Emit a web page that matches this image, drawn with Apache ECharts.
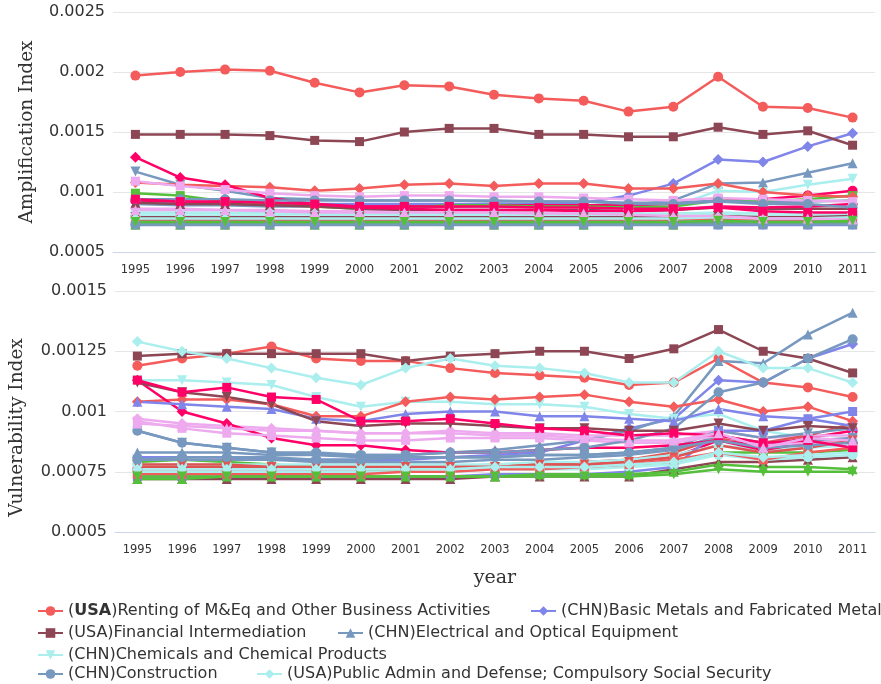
<!DOCTYPE html>
<html lang="en">
  <head>
    <meta charset="UTF-8" />
    <title>Amplification and Vulnerability Index</title>
    <script src="https://cdn.jsdelivr.net/npm/echarts@6/dist/echarts.min.js"></script>
    <style>
      body {
        margin: 0;
        background: #fff;
      }
      main {
        width: 881px;
        height: 684px;
      }
    </style>
  </head>
  <body>
    <main></main>
    <script>
      const years = ["1995", "1996", "1997", "1998", "1999", "2000", "2001", "2002", "2003", "2004", "2005", "2006", "2007", "2008", "2009", "2010", "2011"];

      // series names (only the first few + 20/21 appear in the legend)
      const seriesNames = [
        "(USA)Renting of M&Eq and Other Business Activities",
        "(CHN)Basic Metals and Fabricated Metal",
        "(USA)Financial Intermediation",
        "(CHN)Electrical and Optical Equipment",
        "(CHN)Chemicals and Chemical Products",
        "Sector 6", "Sector 7", "Sector 8", "Sector 9", "Sector 10",
        "Sector 11", "Sector 12", "Sector 13", "Sector 14", "Sector 15",
        "Sector 16", "Sector 17", "Sector 18", "Sector 19", "Sector 20",
        "(CHN)Construction",
        "(USA)Public Admin and Defense; Compulsory Social Security",
        "Sector 23", "Sector 24", "Sector 25", "Sector 26", "Sector 27",
        "Sector 28", "Sector 29", "Sector 30"
      ];

      // Amplification index (top) / Vulnerability index (bottom)
      const s00Amp = [0.00197, 0.002, 0.00202, 0.00201, 0.00191, 0.00183, 0.00189, 0.00188, 0.00181, 0.00178, 0.00176, 0.00167, 0.00171, 0.00196, 0.00171, 0.0017, 0.00162];
      const s00Vul = [0.00119, 0.00122, 0.00124, 0.00127, 0.00122, 0.00121, 0.00121, 0.00118, 0.00116, 0.00115, 0.00114, 0.00111, 0.00112, 0.00122, 0.00112, 0.0011, 0.00106];
      const s01Amp = [0.00092, 0.00092, 0.00091, 0.00091, 0.0009, 0.0009, 0.0009, 0.0009, 0.0009, 0.0009, 0.00091, 0.00097, 0.00107, 0.00127, 0.00125, 0.00138, 0.00149];
      const s01Vul = [0.00081, 0.00081, 0.00081, 0.0008, 0.0008, 0.0008, 0.0008, 0.00081, 0.00082, 0.00083, 0.00088, 0.00093, 0.00097, 0.00113, 0.00112, 0.00122, 0.00128];
      const s02Amp = [0.00148, 0.00148, 0.00148, 0.00147, 0.00143, 0.00142, 0.0015, 0.00153, 0.00153, 0.00148, 0.00148, 0.00146, 0.00146, 0.00154, 0.00148, 0.00151, 0.00139];
      const s02Vul = [0.00123, 0.00124, 0.00124, 0.00124, 0.00124, 0.00124, 0.00121, 0.00123, 0.00124, 0.00125, 0.00125, 0.00122, 0.00126, 0.00134, 0.00125, 0.00122, 0.00116];
      const s03Amp = [0.0009, 0.00089, 0.00089, 0.00088, 0.00088, 0.00088, 0.00088, 0.00088, 0.00088, 0.00088, 0.00088, 0.00089, 0.00093, 0.00107, 0.00108, 0.00116, 0.00124];
      const s03Vul = [0.00083, 0.00083, 0.00083, 0.00082, 0.00082, 0.00082, 0.00082, 0.00083, 0.00084, 0.00086, 0.00088, 0.00092, 0.00098, 0.00121, 0.0012, 0.00132, 0.00141];
      const s04Amp = [0.00082, 0.00082, 0.00082, 0.00082, 0.00081, 0.00081, 0.00082, 0.00082, 0.00082, 0.00082, 0.00082, 0.00083, 0.00088, 0.00101, 0.001, 0.00106, 0.00111];
      const s04Vul = [0.00113, 0.00113, 0.00112, 0.00111, 0.00106, 0.00102, 0.00104, 0.00104, 0.00103, 0.00103, 0.00102, 0.00099, 0.00097, 0.00099, 0.00092, 0.00089, 0.00088];
      const s05Amp = [0.00093, 0.00092, 0.00091, 0.0009, 0.00089, 0.00088, 0.00088, 0.00088, 0.00089, 0.00089, 0.00089, 0.00089, 0.0009, 0.00093, 0.00094, 0.00097, 0.00101];
      const s05Vul = [0.00076, 0.00076, 0.00076, 0.00076, 0.00076, 0.00076, 0.00076, 0.00077, 0.00077, 0.00077, 0.00078, 0.00079, 0.00081, 0.00088, 0.00086, 0.00089, 0.00092];
      const s06Amp = [0.00086, 0.00086, 0.00085, 0.00085, 0.00084, 0.00084, 0.00085, 0.00085, 0.00085, 0.00085, 0.00085, 0.00085, 0.00086, 0.00088, 0.00087, 0.00088, 0.00089];
      const s06Vul = [0.00097, 0.00095, 0.00094, 0.00093, 0.00092, 0.00091, 0.00091, 0.00092, 0.00091, 0.00091, 0.0009, 0.0009, 0.0009, 0.00092, 0.00089, 0.0009, 0.0009];
      const s07Amp = [0.00099, 0.00097, 0.00092, 0.0009, 0.00088, 0.00086, 0.00087, 0.00089, 0.00089, 0.00088, 0.00088, 0.00087, 0.00088, 0.00093, 0.00092, 0.00094, 0.00097];
      const s07Vul = [0.00079, 0.0008, 0.00079, 0.00078, 0.00077, 0.00076, 0.00076, 0.00077, 0.00077, 0.00077, 0.00077, 0.00078, 0.00079, 0.00083, 0.00083, 0.00083, 0.00084];
      const s08Amp = [0.00077, 0.00077, 0.00077, 0.00077, 0.00077, 0.00077, 0.00077, 0.00077, 0.00077, 0.00077, 0.00077, 0.00078, 0.00078, 0.0008, 0.00079, 0.0008, 0.00081];
      const s08Vul = [0.00077, 0.00077, 0.00077, 0.00077, 0.00077, 0.00077, 0.00077, 0.00077, 0.00078, 0.00078, 0.00079, 0.0008, 0.00083, 0.00089, 0.00087, 0.0009, 0.00095];
      const s09Amp = [0.00117, 0.00106, 0.00101, 0.00095, 0.00094, 0.00093, 0.00093, 0.00093, 0.00093, 0.00092, 0.00092, 0.00091, 0.00091, 0.00093, 0.00091, 0.00092, 0.00093];
      const s09Vul = [0.00092, 0.00087, 0.00085, 0.00083, 0.00082, 0.00081, 0.00081, 0.00081, 0.00081, 0.00082, 0.00082, 0.00083, 0.00085, 0.00092, 0.00089, 0.00091, 0.00093];
      const s10Amp = [0.0008, 0.0008, 0.0008, 0.0008, 0.00079, 0.00079, 0.0008, 0.0008, 0.0008, 0.0008, 0.0008, 0.0008, 0.0008, 0.00081, 0.0008, 0.0008, 0.00081];
      const s10Vul = [0.00078, 0.00078, 0.00078, 0.00078, 0.00078, 0.00078, 0.00078, 0.00078, 0.00078, 0.00079, 0.00079, 0.0008, 0.00082, 0.00086, 0.00084, 0.00085, 0.00086];
      const s11Amp = [0.00108, 0.00106, 0.00105, 0.00104, 0.00101, 0.00103, 0.00106, 0.00107, 0.00105, 0.00107, 0.00107, 0.00103, 0.00103, 0.00107, 0.001, 0.00097, 0.00096];
      const s11Vul = [0.00104, 0.00105, 0.00105, 0.00103, 0.00098, 0.00098, 0.00104, 0.00106, 0.00105, 0.00106, 0.00107, 0.00104, 0.00102, 0.00105, 0.001, 0.00102, 0.00096];
      const s12Amp = [0.000725, 0.000725, 0.000725, 0.000725, 0.000725, 0.000725, 0.000725, 0.000725, 0.000725, 0.000725, 0.000725, 0.000725, 0.000725, 0.000725, 0.000725, 0.000725, 0.000725];
      const s12Vul = [0.00073, 0.00073, 0.00073, 0.00073, 0.00073, 0.00073, 0.00073, 0.00073, 0.00074, 0.00074, 0.00074, 0.00075, 0.00077, 0.00092, 0.00092, 0.00097, 0.001];
      const s13Amp = [0.00091, 0.0009, 0.0009, 0.00089, 0.00088, 0.00086, 0.00085, 0.00085, 0.00085, 0.00085, 0.00085, 0.00084, 0.00085, 0.00087, 0.00086, 0.00086, 0.00086];
      const s13Vul = [0.00072, 0.00072, 0.00072, 0.00072, 0.00072, 0.00072, 0.00072, 0.00072, 0.00073, 0.00073, 0.00073, 0.00073, 0.00076, 0.00079, 0.00079, 0.0008, 0.00081];
      const s14Amp = [0.00074, 0.00074, 0.00074, 0.00074, 0.00074, 0.00074, 0.00074, 0.00074, 0.00074, 0.00074, 0.00074, 0.00074, 0.00074, 0.00075, 0.00075, 0.00075, 0.00075];
      const s14Vul = [0.0008, 0.0008, 0.0008, 0.0008, 0.00079, 0.00079, 0.00079, 0.00079, 0.0008, 0.0008, 0.00081, 0.00082, 0.00084, 0.0009, 0.00087, 0.00088, 0.00089];
      const s15Amp = [0.00079, 0.00079, 0.00079, 0.00079, 0.00078, 0.00078, 0.00078, 0.00078, 0.00078, 0.00078, 0.00078, 0.00078, 0.00078, 0.00079, 0.00078, 0.00078, 0.00079];
      const s15Vul = [0.00075, 0.00075, 0.00075, 0.00075, 0.00075, 0.00075, 0.00075, 0.00075, 0.00076, 0.00076, 0.00076, 0.00077, 0.00078, 0.00082, 0.0008, 0.00081, 0.00082];
      const s16Amp = [0.00129, 0.00112, 0.00106, 0.00095, 0.0009, 0.00087, 0.00086, 0.00085, 0.00085, 0.00085, 0.00084, 0.00084, 0.00085, 0.00088, 0.00087, 0.00088, 0.0009];
      const s16Vul = [0.00113, 0.001, 0.00095, 0.00089, 0.00086, 0.00086, 0.00084, 0.00083, 0.00083, 0.00084, 0.00085, 0.00085, 0.00086, 0.00088, 0.00084, 0.00087, 0.00087];
      const s17Amp = [0.00109, 0.00105, 0.00102, 0.00099, 0.00097, 0.00096, 0.00097, 0.00097, 0.00096, 0.00096, 0.00095, 0.00094, 0.00093, 0.00095, 0.00094, 0.00093, 0.00092];
      const s17Vul = [0.00096, 0.00093, 0.00091, 0.0009, 0.00089, 0.00088, 0.00088, 0.00089, 0.00089, 0.00089, 0.00088, 0.00087, 0.00087, 0.0009, 0.00086, 0.00087, 0.00087];
      const s18Amp = [0.00073, 0.00073, 0.00073, 0.00073, 0.00073, 0.00073, 0.00073, 0.00073, 0.00073, 0.00073, 0.00073, 0.00073, 0.00073, 0.00074, 0.00074, 0.00074, 0.00074];
      const s18Vul = [0.00072, 0.00072, 0.00073, 0.00073, 0.00073, 0.00073, 0.00073, 0.00073, 0.00073, 0.00074, 0.00074, 0.00074, 0.00075, 0.00078, 0.00077, 0.00077, 0.00076];
      const s19Amp = [0.00076, 0.00076, 0.00076, 0.00076, 0.00076, 0.00076, 0.00076, 0.00076, 0.00076, 0.00076, 0.00076, 0.00077, 0.00077, 0.00078, 0.00077, 0.00077, 0.00078];
      const s19Vul = [0.00078, 0.00078, 0.00078, 0.00077, 0.00077, 0.00077, 0.00077, 0.00077, 0.00077, 0.00078, 0.00078, 0.00079, 0.00081, 0.00086, 0.00083, 0.00085, 0.00088];
      const s20Amp = [0.00094, 0.00094, 0.00094, 0.00093, 0.00093, 0.00093, 0.00093, 0.00093, 0.00092, 0.00092, 0.00092, 0.0009, 0.0009, 0.00092, 0.0009, 0.0009, 0.00087];
      const s20Vul = [0.00092, 0.00087, 0.00085, 0.00083, 0.00083, 0.00082, 0.00082, 0.00083, 0.00083, 0.00084, 0.00085, 0.00088, 0.00093, 0.00108, 0.00112, 0.00122, 0.0013];
      const s21Amp = [0.00083, 0.00083, 0.00083, 0.00083, 0.00082, 0.00082, 0.00082, 0.00082, 0.00082, 0.00082, 0.00082, 0.00082, 0.00082, 0.00083, 0.00082, 0.00082, 0.00082];
      const s21Vul = [0.00129, 0.00125, 0.00122, 0.00118, 0.00114, 0.00111, 0.00118, 0.00122, 0.00119, 0.00118, 0.00116, 0.00112, 0.00112, 0.00125, 0.00118, 0.00118, 0.00112];
      const s22Amp = [0.00076, 0.00076, 0.00076, 0.00076, 0.00076, 0.00076, 0.00076, 0.00076, 0.00076, 0.00076, 0.00076, 0.00076, 0.00077, 0.00078, 0.00077, 0.00077, 0.00078];
      const s22Vul = [0.00074, 0.00074, 0.00074, 0.00074, 0.00074, 0.00074, 0.00075, 0.00075, 0.00076, 0.00076, 0.00077, 0.00078, 0.0008, 0.00083, 0.0008, 0.00083, 0.00085];
      const s23Amp = [0.00075, 0.00075, 0.00075, 0.00075, 0.00075, 0.00075, 0.00075, 0.00075, 0.00075, 0.00075, 0.00075, 0.00075, 0.00075, 0.00076, 0.00075, 0.00075, 0.00076];
      const s23Vul = [0.00104, 0.00103, 0.00102, 0.00101, 0.00097, 0.00096, 0.00099, 0.001, 0.001, 0.00098, 0.00098, 0.00097, 0.00096, 0.00101, 0.00098, 0.00097, 0.00094];
      const s24Amp = [0.00079, 0.00079, 0.00079, 0.00079, 0.00079, 0.00079, 0.00079, 0.00079, 0.00079, 0.00079, 0.00079, 0.00079, 0.00079, 0.0008, 0.00079, 0.00079, 0.0008];
      const s24Vul = [0.00112, 0.00108, 0.00106, 0.00103, 0.00096, 0.00094, 0.00095, 0.00095, 0.00094, 0.00093, 0.00093, 0.00092, 0.00092, 0.00095, 0.00092, 0.00094, 0.00093];
      const s25Amp = [0.00073, 0.00073, 0.00073, 0.00073, 0.00073, 0.00073, 0.00073, 0.00073, 0.00073, 0.00073, 0.00073, 0.00073, 0.00073, 0.00073, 0.00073, 0.00073, 0.00073];
      const s25Vul = [0.0008, 0.00081, 0.00081, 0.00081, 0.0008, 0.0008, 0.00081, 0.00081, 0.00081, 0.00082, 0.00082, 0.00083, 0.00085, 0.00088, 0.00085, 0.00086, 0.00087];
      const s26Amp = [0.00078, 0.00078, 0.00078, 0.00078, 0.00078, 0.00078, 0.00078, 0.00078, 0.00078, 0.00078, 0.00078, 0.00078, 0.00078, 0.00079, 0.00078, 0.00078, 0.00079];
      const s26Vul = [0.00076, 0.00076, 0.00076, 0.00076, 0.00076, 0.00076, 0.00076, 0.00076, 0.00077, 0.00077, 0.00077, 0.00078, 0.00079, 0.00083, 0.00081, 0.00082, 0.00083];
      const s27Amp = [0.00094, 0.00092, 0.00092, 0.00091, 0.0009, 0.00088, 0.00088, 0.00088, 0.00088, 0.00087, 0.00087, 0.00086, 0.00086, 0.00087, 0.00084, 0.00083, 0.00083];
      const s27Vul = [0.00113, 0.00108, 0.0011, 0.00106, 0.00105, 0.00096, 0.00096, 0.00097, 0.00095, 0.00093, 0.00092, 0.0009, 0.00091, 0.0009, 0.00087, 0.00088, 0.00085];
      const s28Amp = [0.00085, 0.00085, 0.00085, 0.00084, 0.00083, 0.00083, 0.00083, 0.00083, 0.00083, 0.00082, 0.00082, 0.00081, 0.0008, 0.0008, 0.00078, 0.00078, 0.00077];
      const s28Vul = [0.00095, 0.00094, 0.00093, 0.00092, 0.00092, 0.00091, 0.00091, 0.00091, 0.0009, 0.0009, 0.00089, 0.00088, 0.00088, 0.00091, 0.00085, 0.00089, 0.00088];
      const s29Amp = [0.00075, 0.00075, 0.00075, 0.00075, 0.00075, 0.00075, 0.00075, 0.00075, 0.00075, 0.00075, 0.00075, 0.00075, 0.00075, 0.00076, 0.00075, 0.00075, 0.00076];
      const s29Vul = [0.00073, 0.00073, 0.00073, 0.00073, 0.00073, 0.00073, 0.00073, 0.00073, 0.00073, 0.00073, 0.00073, 0.00073, 0.00074, 0.00076, 0.00075, 0.00075, 0.00075];

      const ampData = [s00Amp, s01Amp, s02Amp, s03Amp, s04Amp, s05Amp, s06Amp, s07Amp, s08Amp, s09Amp, s10Amp, s11Amp, s12Amp, s13Amp, s14Amp, s15Amp, s16Amp, s17Amp, s18Amp, s19Amp, s20Amp, s21Amp, s22Amp, s23Amp, s24Amp, s25Amp, s26Amp, s27Amp, s28Amp, s29Amp];
      const vulData = [s00Vul, s01Vul, s02Vul, s03Vul, s04Vul, s05Vul, s06Vul, s07Vul, s08Vul, s09Vul, s10Vul, s11Vul, s12Vul, s13Vul, s14Vul, s15Vul, s16Vul, s17Vul, s18Vul, s19Vul, s20Vul, s21Vul, s22Vul, s23Vul, s24Vul, s25Vul, s26Vul, s27Vul, s28Vul, s29Vul];

      // palette + marker cycle
      const palette = ["#f45b5b", "#8085e9", "#8d4654", "#7798BF", "#aaeeee", "#ff0066", "#eeaaee", "#55BF3B", "#DF5353", "#7798BF", "#aaeeee"];
      const markers = ["circle", "diamond", "rect", "triangle", "triangle-down"];

      const textColor = "#333";
      const serif = "DejaVu Serif";

      function styleFor(i) {
        const m = markers[i % 5];
        return {
          color: palette[i % 11],
          symbol: m === "triangle-down" ? "triangle" : m,
          symbolRotate: m === "triangle-down" ? 180 : 0,
          symbolSize: m === "rect" ? 9 : m === "diamond" ? 11 : 10,
        };
      }

      const series = [];
      [ampData, vulData].forEach(function (block, gi) {
        block.forEach(function (vals, i) {
          const st = styleFor(i);
          series.push({
            name: seriesNames[i],
            type: "line",
            xAxisIndex: gi,
            yAxisIndex: gi,
            data: vals,
            symbol: st.symbol,
            symbolRotate: st.symbolRotate,
            symbolSize: st.symbolSize,
            lineStyle: { width: 2.5, color: st.color },
            itemStyle: { color: st.color },
          });
        });
      });

      function xAxisBase(gi) {
        return {
          type: "category",
          gridIndex: gi,
          data: years,
          boundaryGap: true,
          axisLine: { lineStyle: { color: "#ccd6eb", width: 1 } },
          axisTick: { length: 10, lineStyle: { color: "#ccd6eb" } },
          axisLabel: { interval: 0, margin: 12, fontSize: 11.5, color: textColor, fontFamily: "DejaVu Sans" },
          splitLine: { show: false },
        };
      }

      function yAxisBase(gi, min, max, step, name, nameGap, pad) {
        return {
          type: "value",
          gridIndex: gi,
          min: min,
          max: max,
          interval: step,
          name: name,
          nameLocation: "middle",
          nameGap: nameGap,
          nameTextStyle: { fontFamily: serif, fontSize: 18.5, color: textColor, padding: pad },
          axisLine: { show: false },
          axisTick: { show: false },
          axisLabel: { fontSize: 16, color: textColor, fontFamily: "DejaVu Sans", margin: 8 },
          splitLine: { lineStyle: { color: "#e6e6e6" } },
        };
      }

      const xBottom = xAxisBase(1);
      xBottom.name = "year";
      xBottom.nameLocation = "middle";
      xBottom.nameGap = 37;
      xBottom.nameTextStyle = { fontFamily: serif, fontSize: 19, color: textColor };

      // legend rows, one component per item
      const legendSpots = [
        [0, 37, 603],
        [1, 530, 603],
        [2, 37, 625],
        [3, 337, 625],
        [4, 37, 647],
        [20, 37, 666],
        [21, 256, 666],
      ];
      const legendFont = "DejaVu Sans";
      const legends = legendSpots.map(function (p) {
        return {
          data: [seriesNames[p[0]]],
          left: p[1],
          top: p[2],
          padding: 0,
          itemWidth: 25,
          itemHeight: 12,
          selectedMode: false,
          textStyle: {
            fontSize: 16,
            color: textColor,
            fontFamily: legendFont,
            rich: { b: { fontWeight: "bold", fontSize: 16, color: textColor, fontFamily: legendFont } },
          },
          formatter: function (n) {
            return p[0] === 0 ? n.replace("USA", "{b|USA}") : n;
          },
        };
      });

      const chart = echarts.init(document.querySelector("main"));
      chart.setOption({
        animation: false,
        backgroundColor: "#fff",
        legend: legends,
        grid: [
          { left: 113, right: 6, top: 12, height: 240 },
          { left: 113, right: 6, top: 291, height: 241 },
        ],
        xAxis: [xAxisBase(0), xBottom],
        yAxis: [
          yAxisBase(0, 0.0005, 0.0025, 0.0005, "Amplification Index", 76, [0, 0, 0, 0]),
          yAxisBase(1, 0.0005, 0.0015, 0.00025, "Vulnerability Index", 88, [0, 32, 0, 0]),
        ],
        series: series,
      });
    </script>
  </body>
</html>
